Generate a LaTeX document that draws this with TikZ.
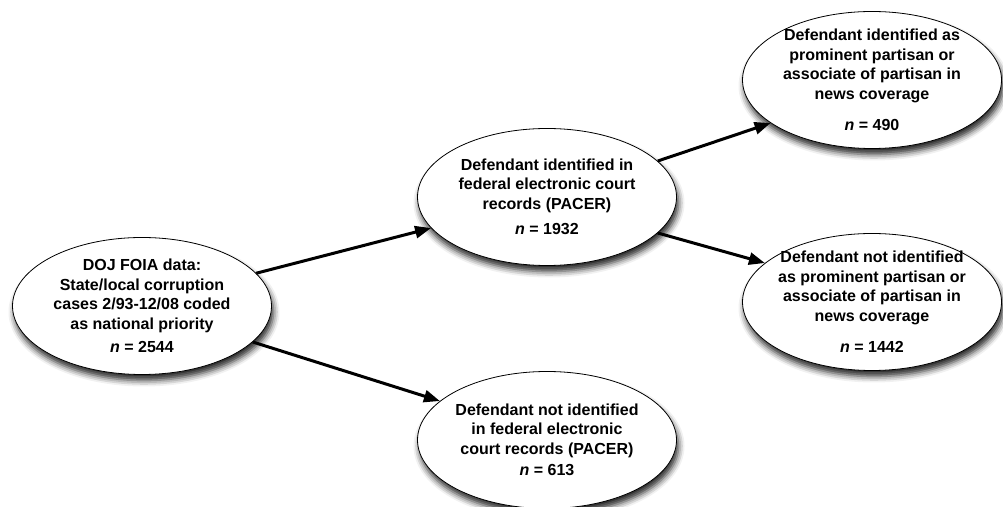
\documentclass[tikz,border=0pt]{standalone}
\usepackage{fontspec}
\setmainfont{Liberation Sans}
\usetikzlibrary{shapes.geometric, arrows.meta, shadows.blur}

\begin{document}
\begin{tikzpicture}[x=1pt, y=1pt,
  bubble/.style={ellipse, draw, line width=0.8pt, fill=white,
    minimum width=259pt, minimum height=137pt, inner xsep=-10pt, inner ysep=-20pt,
    align=center, font=\fontsize{16}{19.5}\selectfont\bfseries,
    blur shadow={shadow xshift=2pt, shadow yshift=-6pt, shadow blur radius=6pt, shadow opacity=85}},
  link/.style={line width=3pt, -{Triangle[length=16pt, width=12pt]}}]
\useasboundingbox (0,0) rectangle (1003,506);

\path (142,200) node[bubble] (doj) {DOJ FOIA data:\\State/local corruption\\cases 2/93-12/08 coded\\as national priority\\[4pt]\textit{n} = 2544}
		(547,309) node[bubble] (pacer) {Defendant identified in\\federal electronic court\\records (PACER)\\[6pt]\textit{n} = 1932}
		(547,66) node[bubble] (nopacer) {Defendant not identified\\in federal electronic\\court records (PACER)\\[2pt]\textit{n} = 613}
		(872,426) node[bubble] (partisan) {Defendant identified as\\prominent partisan or\\associate of partisan in\\news coverage\\[12pt]\textit{n} = 490}
		(872,204) node[bubble] (nopartisan) {Defendant not identified\\as prominent partisan or\\associate of partisan in\\news coverage\\[12pt]\textit{n} = 1442}
		;

\draw[link] (node cs:name=doj, angle=16) -- (node cs:name=pacer, angle=195);
\draw[link] (node cs:name=doj, angle=342) -- (node cs:name=nopacer, angle=160);
\draw[link] (node cs:name=pacer, angle=18) -- (node cs:name=partisan, angle=203);
\draw[link] (node cs:name=pacer, angle=342) -- (node cs:name=nopartisan, angle=160);
\end{tikzpicture}
\end{document}
